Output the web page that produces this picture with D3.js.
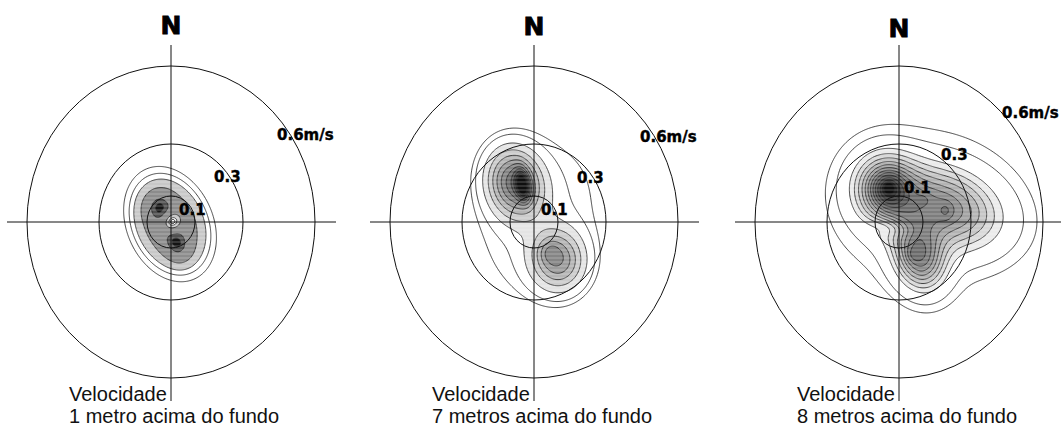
<!DOCTYPE html>
<html>
<head>
<meta charset="utf-8">
<script src="https://cdn.jsdelivr.net/npm/d3@7"></script>
<style>
  body { margin: 0; background: #fff; }
  .lbl { font-family: "DejaVu Sans", sans-serif; font-weight: bold; font-size: 15px; fill: #000; stroke: #000; stroke-width: 0.4px; }
  .north { font-family: "DejaVu Sans", sans-serif; font-weight: bold; font-size: 25px; fill: #000; stroke: #000; stroke-width: 0.9px; }
  .cap { font-family: "Liberation Sans", Arial, sans-serif; font-size: 20px; fill: #111; }
</style>
</head>
<body>
<div id="chart"></div>
<script>
// depth of each current meter
var captions = ['1 metro acima do fundo', '7 metros acima do fundo', '8 metros acima do fundo'];
// speed rings (m/s) and their labels
var rings = [0.1, 0.3, 0.6];
var ringLabels = ['0.1', '0.3', '0.6m/s'];

// density components (u east, v north, m/s):
// [u, v, weight, spread along axis, spread across axis, axis tilt from north in deg]
var blobs1 = [
  [-0.004, -0.008,  0.80, 0.115, 0.087, -30],
  [-0.050,  0.058,  0.55, 0.035, 0.035, 0],
  [ 0.025, -0.085,  0.55, 0.040, 0.032, -30],
  [ 0.004,  0.000, -0.75, 0.028, 0.028, 0]
];
var blobs2 = [
  [-0.080,  0.150, 0.55, 0.090, 0.075, -20],
  [-0.047,  0.142, 0.50, 0.040, 0.020, -10],
  [ 0.100, -0.146, 0.42, 0.080, 0.075, -20],
  [ 0.065, -0.115, 0.10, 0.030, 0.030, 0],
  [ 0.020,  0.020, 0.10, 0.260, 0.200, 25]
];
var blobs3 = [
  [-0.042,  0.131, 0.25, 0.012, 0.012, 0],
  [-0.045,  0.128, 0.25, 0.045, 0.045, 0],
  [-0.055,  0.125, 0.50, 0.095, 0.090, -30],
  [ 0.190,  0.055, 0.50, 0.160, 0.100, 105],
  [ 0.100,  0.088, 0.05, 0.020, 0.015, 90],
  [ 0.196,  0.042, 0.07, 0.025, 0.020, 0],
  [ 0.085, -0.135, 0.55, 0.090, 0.070, -20],
  [ 0.058, -0.127, 0.06, 0.020, 0.020, 0],
  [-0.035, -0.020, -0.12, 0.060, 0.025, 100],
  [ 0.100,  0.050, 0.10, 0.290, 0.230, 90]
];

// contour levels: first two are drawn as plain lines, the rest are filled
var levels1 = [0.1, 0.16, 0.23, 0.4, 0.9, 1.1];
var levels2 = [0.06, 0.09, 0.16, 0.24, 0.32, 0.4, 0.48, 0.56, 0.64, 0.72, 0.8, 0.88];
var levels3 = [0.05, 0.09, 0.2, 0.267, 0.333, 0.4, 0.467, 0.533, 0.6, 0.667, 0.733, 0.8, 0.867, 0.933, 1.0];

var panels = [
  {blobs: blobs1, levels: levels1, light: 200, dark: 20},
  {blobs: blobs2, levels: levels2, light: 228, dark: 15},
  {blobs: blobs3, levels: levels3, light: 235, dark: 15}
];

var W = 1061, H = 429;
var centers = [171, 534, 899], cy = 222;
var rx = 144, ry = 156;
// label anchors relative to each panel centre
var labelSpots = [
  [[8, -7], [43, -40], [106, -82]],
  [[7, -7], [43, -39], [106, -80]],
  [[5, -29], [42, -62], [103, -104]]
];
var northBase = [34, 35, 37];

var svg = d3.select('#chart').append('svg')
            .attr('width', W)
            .attr('height', H);

var defs = svg.append('defs');

// grid for the density surface
var step = 0.004, g0 = -0.6, n = 301;

function density(blobs) {
  var vals = new Array(n * n);
  for (var j = 0; j < n; j++) {
    for (var i = 0; i < n; i++) {
      var u = g0 + i * step, v = g0 + j * step, s = 0;
      blobs.forEach(function(b) {
        var t = b[5] * Math.PI / 180, du = u - b[0], dv = v - b[1];
        var a = du * Math.sin(t) + dv * Math.cos(t);
        var c = du * Math.cos(t) - dv * Math.sin(t);
        s += b[2] * Math.exp(-0.5 * (a * a / (b[3] * b[3]) + c * c / (b[4] * b[4])));
      });
      vals[j * n + i] = s;
    }
  }
  return vals;
}

panels.forEach(function(p, k) {
  var cx = centers[k];
  var xs = d3.scaleLinear().domain([-0.6, 0.6]).range([cx - rx, cx + rx]);
  var ys = d3.scaleLinear().domain([-0.6, 0.6]).range([cy + ry, cy - ry]);

  var g = svg.append('g');

  var path = d3.geoPath(d3.geoTransform({
    point: function(x, y) {
      this.stream.point(xs(g0 + (x - 0.5) * step), ys(g0 + (y - 0.5) * step));
    }
  }));

  var contours = d3.contours().size([n, n]).thresholds(p.levels)(density(p.blobs));
  var nFill = p.levels.length - 2;
  var gray = d3.scaleLinear().domain([0, Math.max(1, nFill - 1)]).range([p.light, p.dark]);

  // contour fills + lines
  g.selectAll('.band')
   .data(contours)
   .enter().append('path')
   .attr('class', 'band')
   .attr('d', path)
   .attr('fill', function(d, i) {
     if (i < 2) return 'none';
     var c = Math.round(gray(i - 2));
     return d3.rgb(c, c, c);
   })
   .attr('stroke', '#1a1a1a')
   .attr('stroke-width', 0.8);

  // faint horizontal hatching across the filled area
  var clipId = 'clip' + k;
  defs.append('clipPath').attr('id', clipId)
      .append('path').attr('d', path(contours[2]));
  g.append('g')
   .attr('clip-path', 'url(#' + clipId + ')')
   .selectAll('line')
   .data(d3.range(cy - ry, cy + ry, 4))
   .enter().append('line')
   .attr('x1', cx - rx).attr('x2', cx + rx)
   .attr('y1', function(d) { return d; })
   .attr('y2', function(d) { return d; })
   .attr('stroke', '#fff')
   .attr('stroke-opacity', 0.3)
   .attr('stroke-width', 1);

  // speed rings
  g.selectAll('.ring')
   .data(rings)
   .enter().append('ellipse')
   .attr('class', 'ring')
   .attr('cx', xs(0)).attr('cy', ys(0))
   .attr('rx', function(d) { return xs(d) - xs(0); })
   .attr('ry', function(d) { return ys(0) - ys(d); })
   .attr('fill', 'none')
   .attr('stroke', '#111')
   .attr('stroke-width', 1);

  // cross hairs
  g.append('line')
   .attr('x1', cx - 164).attr('x2', cx + 165)
   .attr('y1', ys(0)).attr('y2', ys(0))
   .attr('stroke', '#111').attr('stroke-width', 1);
  g.append('line')
   .attr('x1', xs(0)).attr('x2', xs(0))
   .attr('y1', 45).attr('y2', 401)
   .attr('stroke', '#111').attr('stroke-width', 1);

  g.append('text')
   .attr('class', 'north')
   .attr('x', xs(0)).attr('y', northBase[k])
   .attr('text-anchor', 'middle')
   .text('N');

  g.selectAll('.lbl')
   .data(ringLabels)
   .enter().append('text')
   .attr('class', 'lbl')
   .attr('x', function(d, i) { return cx + labelSpots[k][i][0]; })
   .attr('y', function(d, i) { return cy + labelSpots[k][i][1]; })
   .text(function(d) { return d; });

  g.append('text')
   .attr('class', 'cap')
   .attr('x', cx - 102).attr('y', 401)
   .text('Velocidade');
  g.append('text')
   .attr('class', 'cap')
   .attr('x', cx - 102).attr('y', 423)
   .text(captions[k]);
});
</script>
</body>
</html>
